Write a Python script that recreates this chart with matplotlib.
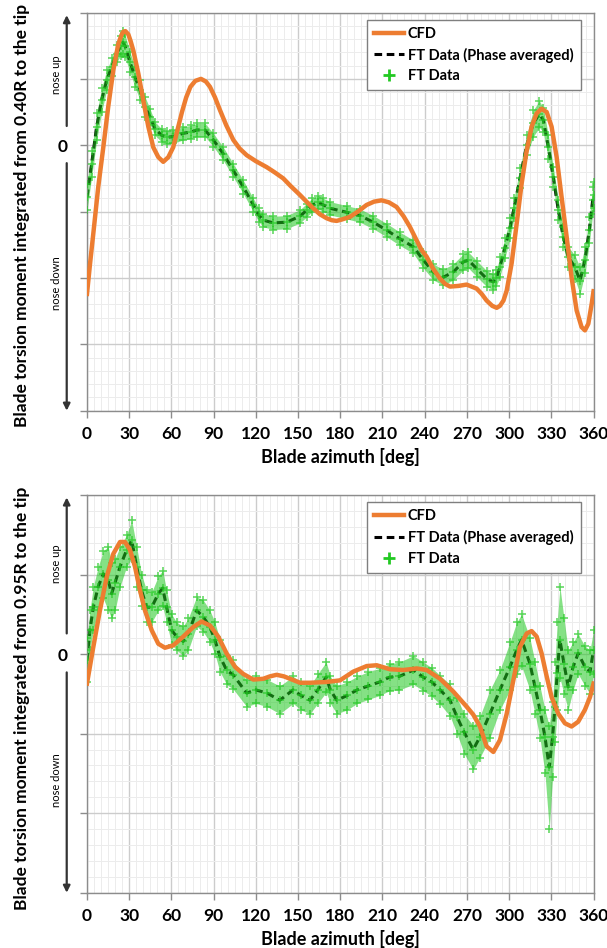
import numpy as np
import matplotlib.pyplot as plt
import matplotlib.transforms as mtransforms
from matplotlib.ticker import MultipleLocator, FuncFormatter
from matplotlib.lines import Line2D

plt.rcParams['font.family'] = ['Lato', 'DejaVu Sans']
plt.rcParams['font.weight'] = 'bold'

# ---- 0.40R panel (top) ----
top_cfd_deg = [0, 2.2, 4.5, 8, 11.6, 15.1, 18.7, 22.3, 24.5, 25.8, 27.3, 29.4, 31, 32.9, 36.5,
               40, 43.6, 47.1, 50.7, 54.2, 57.8, 61.3, 64.9, 67.5, 70.5, 73.5, 77, 81, 84.5,
               87.4, 91, 94.5, 99, 104, 108.5, 113.5, 120, 127.7, 133.5, 139.5, 145, 151.4,
               156, 160.8, 165.5, 170.3, 174, 177.4, 181, 186.9, 192.5, 198.7, 204, 209.4,
               214.5, 220, 225, 229.5, 233.5, 237.8, 241.4, 246, 250.9, 254.5, 258, 264,
               269.8, 276.9, 280.5, 284, 288, 291.2, 293.5, 296, 298.3, 301.8, 305.4, 308.9,
               312.5, 316, 319.6, 323.1, 326.7, 330.2, 333.8, 337.3, 340.9, 344.4, 348,
               351.5, 353.9, 356.3, 358.7, 360]
top_cfd_val = [-2.24, -1.78, -1.33, -0.63, -0.03, 0.58, 1.13, 1.53, 1.66, 1.71, 1.72, 1.67,
               1.57, 1.43, 1.08, 0.68, 0.28, -0.03, -0.18, -0.25, -0.18, -0.03, 0.28, 0.5,
               0.72, 0.88, 0.97, 1.0, 0.96, 0.88, 0.72, 0.53, 0.3, 0.08, -0.05, -0.15, -0.24,
               -0.33, -0.41, -0.5, -0.62, -0.75, -0.85, -0.95, -1.04, -1.1, -1.13, -1.14,
               -1.12, -1.08, -1.0, -0.9, -0.85, -0.83, -0.86, -0.93, -1.07, -1.23, -1.4,
               -1.58, -1.68, -1.86, -2.01, -2.09, -2.13, -2.12, -2.1, -2.16, -2.24, -2.34,
               -2.42, -2.45, -2.42, -2.34, -2.19, -1.78, -1.18, -0.58, -0.08, 0.28, 0.48,
               0.55, 0.5, 0.28, -0.18, -0.78, -1.38, -1.99, -2.49, -2.74, -2.79, -2.69,
               -2.39, -2.2]

top_avg_deg = [0, 3.3, 6.9, 10.4, 14, 17.5, 21.1, 23.9, 25.5, 27, 30.6, 34.1, 37.7, 41.2,
               44.8, 48.3, 53, 57, 61.3, 68.4, 74, 78, 83.9, 89.8, 96.9, 104, 111.1, 118.2,
               122, 125.3, 132.4, 141.9, 151.4, 156.1, 160, 164.4, 168, 172.7, 184.5, 194,
               203.5, 213, 222.4, 231.9, 239, 246.1, 253.2, 260.3, 267.4, 271, 277, 284,
               288.8, 291, 293.5, 297, 300.6, 303.5, 307.7, 312.5, 317.2, 321.5, 324.3,
               327.9, 331.4, 335, 338.5, 342, 346.8, 350.4, 353.9, 357, 359.4, 360]
top_avg_val = [-0.78, -0.28, 0.28, 0.68, 0.98, 1.18, 1.38, 1.5, 1.55, 1.5, 1.25, 1.03, 0.83,
               0.58, 0.43, 0.25, 0.15, 0.12, 0.13, 0.18, 0.2, 0.23, 0.23, 0.08, -0.13, -0.38,
               -0.63, -0.9, -1.05, -1.13, -1.17, -1.16, -1.07, -0.98, -0.9, -0.86, -0.9,
               -0.95, -1.01, -1.06, -1.16, -1.28, -1.41, -1.53, -1.73, -1.91, -1.99, -1.91,
               -1.76, -1.73, -1.86, -2.01, -2.06, -2.0, -1.83, -1.55, -1.25, -0.95, -0.5,
               0.0, 0.33, 0.47, 0.38, -0.03, -0.48, -0.98, -1.38, -1.68, -1.84, -2.04,
               -1.73, -1.28, -0.83, -0.75]
# half width of the FT Data scatter band
top_ft_spread = [0.2, 0.2, 0.2, 0.18, 0.15, 0.13, 0.13, 0.15, 0.17, 0.17,
                 0.15, 0.15, 0.15, 0.15, 0.12, 0.1, 0.1, 0.1, 0.1, 0.1,
                 0.1, 0.1, 0.1, 0.1, 0.1, 0.1, 0.1, 0.1, 0.1, 0.1,
                 0.1, 0.1, 0.1, 0.1, 0.1, 0.1, 0.1, 0.1, 0.1, 0.1,
                 0.1, 0.1, 0.1, 0.1, 0.12, 0.12, 0.12, 0.12, 0.12, 0.12,
                 0.12, 0.12, 0.12, 0.12, 0.15, 0.15, 0.15, 0.15, 0.15, 0.15,
                 0.2, 0.2, 0.18, 0.18, 0.15, 0.15, 0.15, 0.15, 0.18, 0.2,
                 0.2, 0.2, 0.2, 0.2]

# ---- 0.95R panel (bottom) ----
bot_cfd_deg = [0, 4.5, 9.2, 14, 18.7, 23.5, 27, 30.6, 34.1, 37.7, 41.2, 46, 50.7, 55.4,
               61.3, 68.4, 75.5, 81.4, 87.4, 93.3, 99.2, 105.2, 111.1, 118.2, 125.3, 130,
               134.8, 140, 144.3, 151.4, 158.5, 170.3, 179.8, 189.3, 198.8, 205.9, 215.3,
               224.8, 234.3, 241.4, 250.9, 260.3, 269.8, 274.5, 279.3, 284, 288.8, 293.5,
               298.3, 303, 307.7, 312.5, 316, 319.6, 323.1, 326.7, 330.2, 335, 339.7,
               344.4, 349.1, 353.9, 357.5, 360]
bot_cfd_val = [-0.37, 0.09, 0.55, 0.97, 1.26, 1.41, 1.41, 1.31, 1.1, 0.8, 0.55, 0.3, 0.13,
               0.08, 0.11, 0.22, 0.34, 0.41, 0.36, 0.22, 0.01, -0.16, -0.25, -0.32, -0.31,
               -0.28, -0.26, -0.28, -0.31, -0.36, -0.36, -0.35, -0.33, -0.22, -0.15, -0.14,
               -0.19, -0.2, -0.18, -0.2, -0.31, -0.47, -0.66, -0.76, -0.91, -1.16, -1.23,
               -1.08, -0.75, -0.33, 0.09, 0.26, 0.29, 0.22, 0.01, -0.28, -0.54, -0.75, -0.87,
               -0.91, -0.85, -0.7, -0.54, -0.37]

bot_avg_deg = [0, 2.1, 4.5, 8, 11.6, 15.1, 17.5, 20, 23.5, 28.2, 31.8, 35.3, 38.8, 42.4, 46,
               50.7, 53.8, 56.6, 60.2, 63.7, 68.4, 72, 77.9, 82.6, 87.4, 90.9, 94.5, 99.2,
               103.9, 113.5, 120, 128, 137, 146.5, 152, 158.5, 164, 170, 173, 177.5, 185,
               192, 200, 208, 215, 222, 232, 239, 245, 251, 258, 263, 268, 274.5, 279.3,
               286.4, 293.5, 300.6, 305.4, 308.9, 314.8, 318.4, 321.9, 325.5, 328.5, 330.9,
               332.6, 334.2, 336.1, 339, 342, 345.5, 349.1, 353.9, 357.5, 360]
bot_avg_val = [-0.08, 0.3, 0.59, 0.85, 1.01, 0.93, 0.76, 0.9, 1.1, 1.31, 1.43, 1.1, 0.8,
               0.59, 0.59, 0.76, 0.83, 0.59, 0.3, 0.22, 0.16, 0.25, 0.55, 0.47, 0.34, 0.18,
               -0.03, -0.2, -0.26, -0.49, -0.45, -0.49, -0.58, -0.45, -0.52, -0.58, -0.45,
               -0.29, -0.45, -0.58, -0.52, -0.45, -0.4, -0.35, -0.29, -0.28, -0.2, -0.29,
               -0.35, -0.45, -0.58, -0.79, -0.98, -1.2, -1.04, -0.75, -0.45, -0.16, 0.05,
               0.18, -0.12, -0.41, -0.7, -1.04, -1.42, -1.04, -0.66, -0.24, 0.18, -0.12,
               -0.41, -0.16, 0.01, -0.16, -0.22, 0.05]
# upper / lower edge of the FT Data scatter cloud
bot_ft_hi = [0.2, 0.55, 0.85, 1.1, 1.3, 1.35, 1.15, 1.2, 1.35, 1.5,
             1.68, 1.35, 1.0, 0.8, 0.78, 0.98, 1.05, 0.8, 0.5, 0.4,
             0.35, 0.45, 0.72, 0.68, 0.55, 0.4, 0.18, -0.02, -0.08, -0.33,
             -0.28, -0.32, -0.4, -0.28, -0.35, -0.4, -0.25, -0.1, -0.28, -0.4,
             -0.35, -0.28, -0.22, -0.18, -0.12, -0.1, -0.02, -0.1, -0.17, -0.27,
             -0.38, -0.55, -0.75, -0.9, -0.78, -0.45, -0.2, 0.15, 0.4, 0.5,
             0.2, -0.1, -0.4, -0.7, -0.9, -0.6, -0.1, 0.4, 0.85, 0.45,
             0.05, 0.15, 0.25, 0.1, 0.05, 0.3]
bot_ft_lo = [-0.35, 0.05, 0.3, 0.55, 0.7, 0.55, 0.45, 0.55, 0.85, 1.1,
             1.2, 0.85, 0.6, 0.4, 0.4, 0.55, 0.6, 0.4, 0.12, 0.05,
             -0.02, 0.05, 0.35, 0.28, 0.15, 0.0, -0.22, -0.38, -0.44, -0.66,
             -0.62, -0.66, -0.75, -0.62, -0.7, -0.75, -0.62, -0.48, -0.62, -0.75,
             -0.7, -0.62, -0.57, -0.52, -0.46, -0.45, -0.38, -0.46, -0.53, -0.63,
             -0.78, -1.0, -1.25, -1.45, -1.3, -1.05, -0.7, -0.45, -0.25, -0.15,
             -0.45, -0.75, -1.05, -1.5, -2.2, -1.55, -1.1, -0.7, -0.3, -0.5,
             -0.7, -0.45, -0.25, -0.4, -0.5, -0.25]

ORANGE = '#ED7D31'
GREEN = '#22c922'


def draw_panel(ax, ylim, cfd_x, cfd_y, avg_x, avg_y, lo, hi, ylabel, arrows, texts):
    ax.set_xlim(0, 360)
    ax.set_ylim(*ylim)
    ax.xaxis.set_major_locator(MultipleLocator(30))
    ax.xaxis.set_minor_locator(MultipleLocator(5))
    ax.yaxis.set_major_locator(MultipleLocator(1))
    ax.yaxis.set_minor_locator(MultipleLocator(0.2))
    ax.yaxis.set_major_formatter(FuncFormatter(lambda v, p: '0' if abs(v) < 1e-9 else ''))
    ax.grid(which='major', color='#cccccc', lw=1.0)
    ax.grid(which='minor', color='#ececec', lw=0.7)
    ax.set_axisbelow(True)
    for s in ax.spines.values():
        s.set_color('#8c8c8c')
        s.set_linewidth(1.0)
    ax.tick_params(which='major', length=5, width=1, color='#8c8c8c', labelsize=12.5)
    ax.tick_params(axis='x', pad=6)
    ax.tick_params(axis='y', pad=9)
    ax.tick_params(which='minor', length=0)

    # FT data scatter cloud (drawn over the phase averaged line)
    ax.plot(avg_x, avg_y, color='black', lw=2.2, ls=(0, (2.5, 1.5)), zorder=2.5)
    ax.fill_between(avg_x, lo, hi, color=GREEN, alpha=0.55, lw=0, zorder=3)
    for yy in (lo, avg_y, hi):
        ax.plot(avg_x, yy, '+', color=GREEN, ms=6, mew=1.1, alpha=0.75, zorder=3)
    ax.plot(cfd_x, cfd_y, color=ORANGE, lw=3.2, zorder=4, solid_joinstyle='round')

    ax.set_xlabel('Blade azimuth [deg]', fontsize=13, fontweight='bold', labelpad=4)
    ax.set_ylabel(ylabel, fontsize=12.5, fontweight='bold')
    ax.yaxis.set_label_coords(-0.112, 0.49)

    # nose up / nose down arrows left of the axis
    trans = mtransforms.blended_transform_factory(ax.transAxes, ax.transData)
    for (y0, y1) in arrows:
        ax.annotate('', xy=(-0.04, y1), xytext=(-0.04, y0), xycoords=trans, textcoords=trans,
                    arrowprops=dict(arrowstyle='-|>', color='#333333', lw=1.6,
                                    mutation_scale=10, shrinkA=0, shrinkB=0),
                    annotation_clip=False)
    for (ty, txt) in texts:
        ax.text(-0.06, ty, txt, transform=trans, rotation=90, fontsize=8,
                fontweight='normal', ha='center', va='center')

    handles = [Line2D([], [], color=ORANGE, lw=3.2),
               Line2D([], [], color='black', lw=2.2, ls=(0, (2.5, 1.5))),
               Line2D([], [], color=GREEN, marker='+', ls='none', ms=8, mew=2)]
    leg = ax.legend(handles, ['CFD', 'FT Data (Phase averaged)', 'FT Data'],
                    loc='upper right', bbox_to_anchor=(0.975, 0.982), borderaxespad=0,
                    fontsize=10.5, fancybox=False, framealpha=1, edgecolor='#7f7f7f',
                    handlelength=2.0, handletextpad=0.3, labelspacing=0.45,
                    borderpad=0.5)
    leg.get_frame().set_linewidth(1.0)
    leg.set_zorder(10)


fig = plt.figure(figsize=(6.07, 9.48), dpi=100)
ax1 = fig.add_axes([0.1433, 0.5668, 0.8345, 0.42])
ax2 = fig.add_axes([0.1433, 0.0583, 0.8345, 0.4195])

draw_panel(ax1, (-4, 2), top_cfd_deg, top_cfd_val, top_avg_deg, top_avg_val,
           np.array(top_avg_val) - np.array(top_ft_spread),
           np.array(top_avg_val) + np.array(top_ft_spread),
           'Blade torsion moment integrated from 0.40R to the tip',
           [(0.29, 1.96), (-0.27, -4.0)], [(1.06, 'nose up'), (-2.08, 'nose down')])
draw_panel(ax2, (-3, 2), bot_cfd_deg, bot_cfd_val, bot_avg_deg, bot_avg_val,
           bot_ft_lo, bot_ft_hi,
           'Blade torsion moment integrated from 0.95R to the tip',
           [(0.26, 1.97), (-0.23, -3.0)], [(1.14, 'nose up'), (-1.58, 'nose down')])

fig.savefig('out.png', dpi=100)
